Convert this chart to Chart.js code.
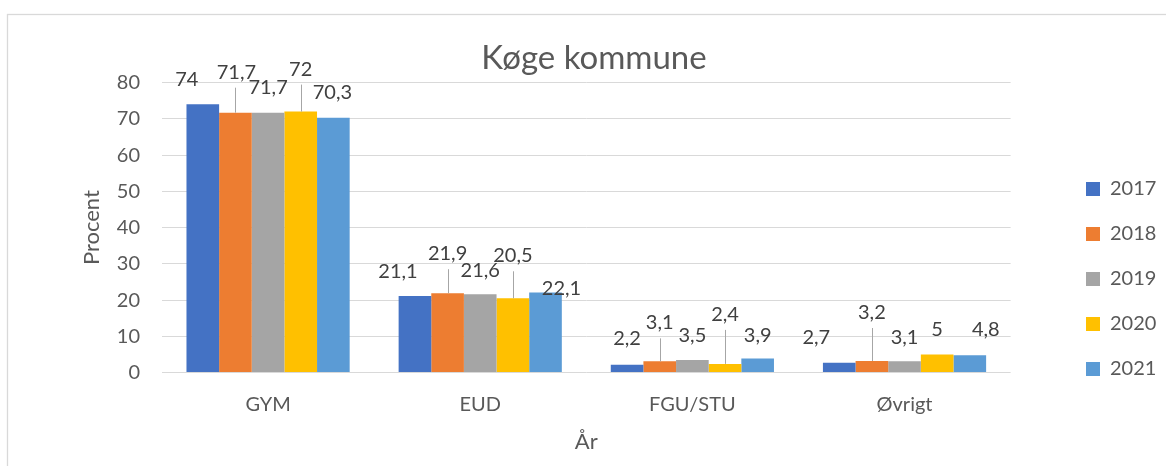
<!DOCTYPE html>
<html>
  <head>
    <title>Køge kommune</title>
    <meta charset="utf-8" />
    <script src="https://cdn.jsdelivr.net/npm/chart.js@4.4.1/dist/chart.umd.min.js"></script>
    <style>
      html, body { margin: 0; padding: 0; background: #fff; }
      canvas { display: block; }
    </style>
  </head>
  <body>
    <canvas id="chart" width="1166" height="466"></canvas>
    <script>
      // data
      const categories = ["GYM", "EUD", "FGU/STU", "Øvrigt"];
      const years = ["2017", "2018", "2019", "2020", "2021"];
      const values2017 = [74, 21.1, 2.2, 2.7];
      const values2018 = [71.7, 21.9, 3.1, 3.2];
      const values2019 = [71.7, 21.6, 3.5, 3.1];
      const values2020 = [72, 20.5, 2.4, 5];
      const values2021 = [70.3, 22.1, 3.9, 4.8];
      const yTicks = [0, 10, 20, 30, 40, 50, 60, 70, 80];

      const seriesValues = [values2017, values2018, values2019, values2020, values2021];
      const seriesColors = ["#4472C4", "#ED7D31", "#A5A5A5", "#FFC000", "#5B9BD5"];

      // where each data label sits relative to the top of its bar: [dx, dy, leader line]
      const labelPlacement = [
        [[-16, -25], [-17, -25], [0, -27], [-23, -26]],
        [[1, -41, true], [0, -40, true], [0, -39, true], [0, -49, true]],
        [[0, -26], [0, -24], [0, -25], [0, -24]],
        [[0, -43, true], [0, -43, true], [0, -50, true], [0, -25]],
        [[-1, -26], [16, -4], [0, -23], [16, -26]]
      ];

      const FONT = "Lato, 'Open Sans', sans-serif";
      const TEXT = "#595959";
      const GRID = "#D9D9D9";
      const LEGEND_BOX_X = 1086;
      const LEGEND_FIRST_CENTER = 189;

      const fmt = v => String(v).replace(".", ",");

      const frame = {
        id: "frame",
        beforeDraw(chart) {
          const ctx = chart.ctx;
          ctx.save();
          ctx.strokeStyle = GRID;
          ctx.lineWidth = 1.3;
          ctx.strokeRect(7.5, 14.5, 1300, 600);
          ctx.restore();
        }
      };

      const legendPlace = {
        id: "legendPlace",
        afterLayout(chart) {
          const lg = chart.legend;
          const pad = lg.options.labels.padding;
          const dx = LEGEND_BOX_X - (lg.left + pad);
          lg.left += dx;
          lg.right += dx;
          const colH = lg.columnSizes[0].height;
          const startY = (lg.top + pad + lg.bottom - colH) / 2;
          const itemH = lg.options.labels.font.size;
          const dy = LEGEND_FIRST_CENTER - itemH / 2 - startY;
          lg.top += dy;
          lg.bottom += dy;
        }
      };

      const barLabels = {
        id: "barLabels",
        afterDatasetsDraw(chart) {
          const ctx = chart.ctx;
          ctx.save();
          ctx.font = "20px " + FONT;
          ctx.textAlign = "center";
          ctx.textBaseline = "alphabetic";
          chart.data.datasets.forEach((ds, di) => {
            chart.getDatasetMeta(di).data.forEach((bar, i) => {
              const [dx, dy, leader] = labelPlacement[di][i];
              const cx = bar.x + dx;
              const cy = bar.y + dy;
              if (leader) {
                ctx.strokeStyle = "#A6A6A6";
                ctx.lineWidth = 1;
                ctx.beginPath();
                ctx.moveTo(Math.round(bar.x) + 0.5, cy + 16);
                ctx.lineTo(Math.round(bar.x) + 0.5, bar.y);
                ctx.stroke();
              }
              ctx.fillStyle = "#404040";
              ctx.fillText(fmt(ds.data[i]), cx, cy + 7);
            });
          });
          ctx.restore();
        }
      };

      new Chart(document.getElementById("chart"), {
        type: "bar",
        data: {
          labels: categories,
          datasets: years.map((year, i) => ({
            label: year,
            data: seriesValues[i],
            backgroundColor: seriesColors[i],
            borderWidth: 0,
            categoryPercentage: 5 / 6.5,
            barPercentage: 1
          }))
        },
        options: {
          responsive: false,
          devicePixelRatio: 1,
          animation: false,
          layout: { padding: { left: 72, right: 50, top: 14, bottom: 11 } },
          plugins: {
            title: {
              display: true,
              text: "Køge kommune",
              color: TEXT,
              font: { family: FONT, size: 33, weight: "normal" },
              padding: { top: 25, bottom: 4 }
            },
            legend: {
              position: "right",
              labels: {
                color: TEXT,
                font: { family: FONT, size: 20 },
                boxWidth: 14,
                boxHeight: 14,
                padding: 25
              }
            },
            tooltip: { enabled: false }
          },
          scales: {
            x: {
              grid: { display: false },
              border: { display: false },
              ticks: { color: TEXT, font: { family: FONT, size: 20 }, padding: 12 },
              title: {
                display: true,
                text: "År",
                color: TEXT,
                font: { family: FONT, size: 22 },
                padding: { top: 0, bottom: 0 }
              }
            },
            y: {
              min: yTicks[0],
              max: yTicks[yTicks.length - 1],
              afterBuildTicks: scale => {
                scale.ticks = yTicks.map(v => ({ value: v }));
              },
              afterFit: scale => {
                scale.width = 90;
              },
              grid: { color: GRID, lineWidth: 1, drawTicks: false },
              border: { display: false },
              ticks: { color: TEXT, font: { family: FONT, size: 20 }, padding: 22 },
              title: {
                display: true,
                text: "Procent",
                color: TEXT,
                font: { family: FONT, size: 22 },
                padding: { top: 7, bottom: 0 }
              }
            }
          }
        },
        plugins: [frame, legendPlace, barLabels]
      });
    </script>
  </body>
</html>
